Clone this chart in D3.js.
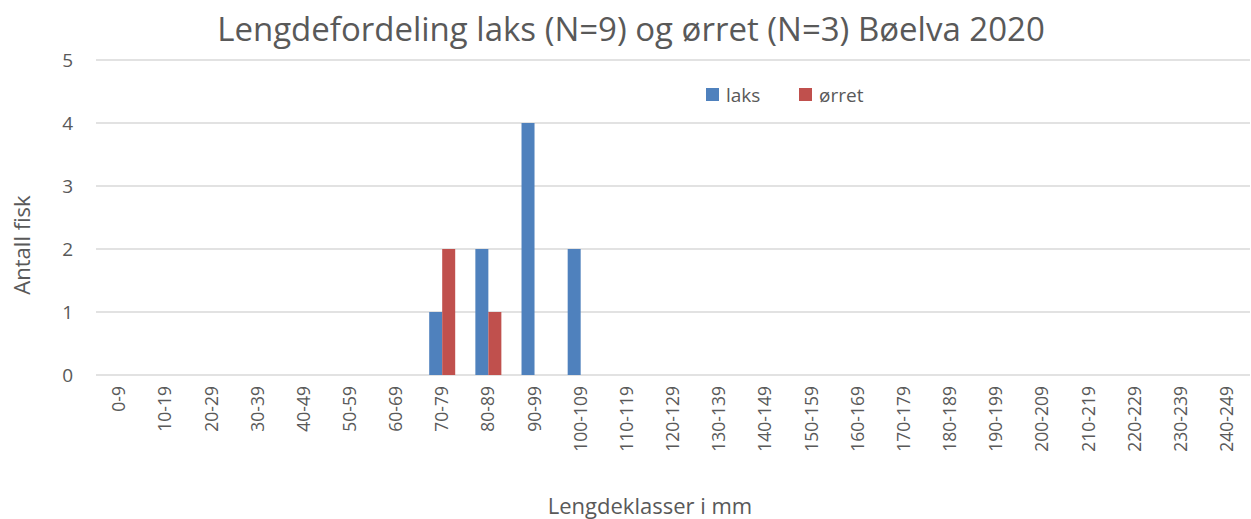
<!DOCTYPE html>
<html lang="en">
    <head>
        <meta charset="utf-8">
        <title>Lengdefordeling laks og ørret Bøelva 2020</title>
        <script type="text/javascript" src="https://cdn.jsdelivr.net/npm/d3@7"></script>
        <style>
            body { margin: 0; background: #fff; }
            text { font-family: "Open Sans", sans-serif; fill: #595959; }
        </style>
    </head>
    <body>
        <div class="chart"></div>
        <script type="text/javascript">
            // length classes and counts per class
            var categories = ["0-9","10-19","20-29","30-39","40-49","50-59","60-69","70-79","80-89","90-99",
                              "100-109","110-119","120-129","130-139","140-149","150-159","160-169","170-179",
                              "180-189","190-199","200-209","210-219","220-229","230-239","240-249"];
            var laks  = [0,0,0,0,0,0,0,1,2,4,2,0,0,0,0,0,0,0,0,0,0,0,0,0,0];
            var orret = [0,0,0,0,0,0,0,2,1,0,0,0,0,0,0,0,0,0,0,0,0,0,0,0,0];
            var seriesNames = ["laks", "ørret"];
            var colors = ["#4f81bd", "#c0504d"];
            var yTicks = [0, 1, 2, 3, 4, 5];

            var w = 1251, h = 519;
            var mLeft = 96, mRight = 1250, mTop = 60, mBottom = 375;

            var svg = d3.select("div.chart").append("svg")
                        .attr("width", w).attr("height", h);

            var x = d3.scaleBand().domain(categories).range([mLeft, mRight]).padding(0);
            var xs = d3.scaleBand().domain(seriesNames).range([0, 26]);
            var y = d3.scaleLinear().domain([0, 5]).range([mBottom, mTop]);

            // gridlines
            svg.append("g").selectAll("line").data(yTicks).enter().append("line")
               .attr("x1", mLeft).attr("x2", mRight)
               .attr("y1", function(d){ return y(d); }).attr("y2", function(d){ return y(d); })
               .attr("stroke", "#d9d9d9").attr("stroke-width", 1.3);

            // y tick labels
            svg.append("g").selectAll("text").data(yTicks).enter().append("text")
               .attr("x", 73).attr("y", function(d){ return y(d); })
               .attr("dy", "0.35em").attr("text-anchor", "end")
               .attr("font-size", "19px").text(function(d){ return d; });

            // bars
            var rows = categories.map(function(c, i){ return {cat: c, vals: [laks[i], orret[i]]}; });
            var groups = svg.append("g").selectAll("g").data(rows).enter().append("g")
               .attr("transform", function(d){ return "translate(" + (x(d.cat) + x.bandwidth()/2 - 13) + ",0)"; });
            groups.selectAll("rect").data(function(d){ return d.vals.map(function(v, j){ return {s: seriesNames[j], v: v, j: j}; }); })
               .enter().append("rect")
               .attr("x", function(d){ return xs(d.s); })
               .attr("width", xs.bandwidth())
               .attr("y", function(d){ return y(d.v); })
               .attr("height", function(d){ return mBottom - y(d.v); })
               .attr("fill", function(d){ return colors[d.j]; });

            // x tick labels (rotated)
            svg.append("g").selectAll("text").data(categories).enter().append("text")
               .attr("transform", function(d){ return "translate(" + (x(d) + x.bandwidth()/2) + ",386) rotate(-90)"; })
               .attr("text-anchor", "end").attr("dy", "0.35em")
               .attr("font-size", "17.5px").text(function(d){ return d; });

            // title
            svg.append("text").attr("x", 631).attr("y", 41).attr("text-anchor", "middle")
               .attr("font-size", "33px").text("Lengdefordeling laks (N=9) og ørret (N=3) Bøelva 2020");

            // axis titles
            svg.append("text").attr("transform", "translate(30,245) rotate(-90)")
               .attr("text-anchor", "middle").attr("font-size", "22px").text("Antall fisk");
            svg.append("text").attr("x", 650).attr("y", 514).attr("text-anchor", "middle")
               .attr("font-size", "22px").text("Lengdeklasser i mm");

            // legend
            var legX = [706, 799];
            var leg = svg.append("g").selectAll("g").data(seriesNames).enter().append("g")
               .attr("transform", function(d, i){ return "translate(" + legX[i] + ",88)"; });
            leg.append("rect").attr("width", 13).attr("height", 13)
               .attr("fill", function(d, i){ return colors[i]; });
            leg.append("text").attr("x", 20).attr("y", 7).attr("dy", "0.35em")
               .attr("font-size", "19px").text(function(d){ return d; });
        </script>
    </body>
</html>
